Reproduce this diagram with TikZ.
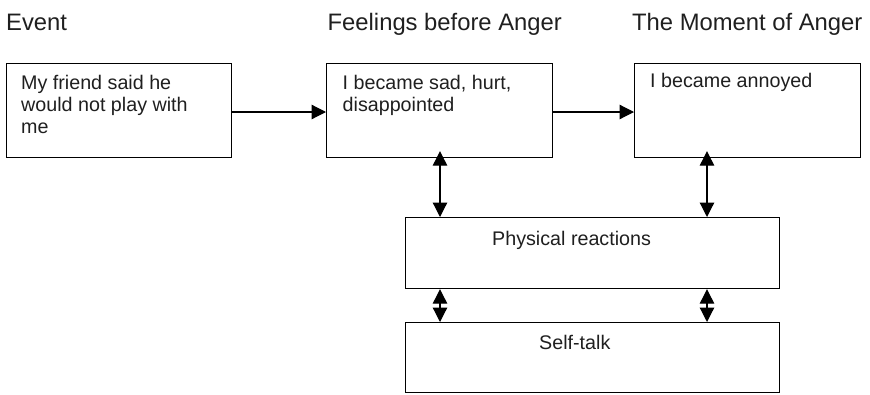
\documentclass[tikz,border=0pt]{standalone}
\usepackage{fontspec}
\setmainfont{Liberation Sans}
\usetikzlibrary{arrows.meta}

\tikzset{
  box/.style={draw=black, line width=1.2pt, anchor=north west, inner sep=0pt},
  boxtext/.style={anchor=base west, inner sep=0pt, font=\fontsize{19.7}{22.3}\selectfont, text=black!88, align=left},
  heading/.style={anchor=base west, inner sep=0pt, font=\fontsize{23.8}{27}\selectfont, text=black!88},
  flow/.style={line width=1.2pt, -{Triangle[length=14.5pt,width=14.5pt]}},
  twoway/.style={line width=1.2pt, {Triangle[length=14.5pt,width=14.5pt]}-{Triangle[length=14.5pt,width=14.5pt]}}
}

\begin{document}
\begin{tikzpicture}[x=1pt, y=-1pt]
  \useasboundingbox (0,0) rectangle (870,394);

  % column headings
  \node[heading] (h1) at (6,30) {Event};
  \node[heading] (h2) at (327.5,30) {Feelings before Anger};
  \node[heading] (h3) at (632,30) {The Moment of Anger};

  % top row of boxes
  \node[box, minimum width=225pt, minimum height=94pt] (ev) at (6,63) {};
  \node[box, minimum width=226pt, minimum height=94pt] (fb) at (326,63) {};
  \node[box, minimum width=226pt, minimum height=94pt] (mo) at (634,63) {};

  % lower boxes
  \node[box, minimum width=374pt, minimum height=71pt] (ph) at (405,217) {};
  \node[box, minimum width=374pt, minimum height=70pt] (st) at (405,322) {};

  % texts inside the boxes (anchored on the baseline of their last line)
  \node[boxtext] (t1) at (21,133.6) {My friend said he\\would not play with\\me};
  \node[boxtext] (t2) at (342.5,111.3) {I became sad, hurt,\\disappointed};
  \node[boxtext] (t3) at (650,87.5) {I became annoyed};
  \node[boxtext] (t4) at (492,245) {Physical reactions};
  \node[boxtext] (t5) at (539,349) {Self-talk};

  % columns of the two-way links
  \coordinate (cl) at (440,0);
  \coordinate (cr) at (707,0);

  % forward links
  \draw[flow] (ev.east |- 0,112) -- (fb.west |- 0,112);
  \draw[flow] (fb.east |- 0,112) -- (mo.west |- 0,112);

  % two-way links
  \draw[twoway] ([yshift=7pt]fb.south -| cl) -- (ph.north -| cl);
  \draw[twoway] ([yshift=7pt]mo.south -| cr) -- (ph.north -| cr);
  \draw[twoway] (ph.south -| cl) -- (st.north -| cl);
  \draw[twoway] (ph.south -| cr) -- (st.north -| cr);
\end{tikzpicture}
\end{document}
